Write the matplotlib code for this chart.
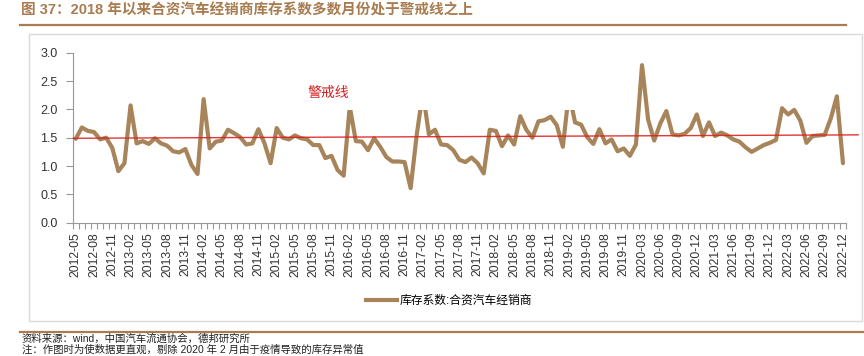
import matplotlib
matplotlib.use("Agg")
import matplotlib.pyplot as plt
import pandas as pd
from matplotlib.patches import Rectangle
from matplotlib.lines import Line2D

# ---- data ----
months = [p.strftime("%Y-%m") for p in pd.period_range("2012-05", "2022-12", freq="M")]
categories = [m for m in months if m != "2020-02"]  # 2020-02 removed in source chart

inventory = [
    1.48, 1.68, 1.62, 1.60, 1.47, 1.50, 1.32, 0.91, 1.05, 2.07,
    1.40, 1.44, 1.39, 1.49, 1.40, 1.36, 1.26, 1.24, 1.30, 1.02,
    0.86, 2.18, 1.31, 1.43, 1.45, 1.64, 1.58, 1.51, 1.38, 1.40,
    1.65, 1.40, 1.05, 1.67, 1.50, 1.47, 1.54, 1.49, 1.47, 1.37,
    1.37, 1.14, 1.18, 0.93, 0.83, 2.05, 1.44, 1.43, 1.28, 1.49,
    1.34, 1.16, 1.08, 1.08, 1.07, 0.61, 1.55, 2.30, 1.56, 1.64,
    1.38, 1.37, 1.28, 1.11, 1.07, 1.15, 1.05, 0.87, 1.64, 1.62,
    1.35, 1.54, 1.38, 1.88, 1.64, 1.50, 1.79, 1.81, 1.87, 1.72,
    1.34, 2.30, 1.77, 1.73, 1.51, 1.39, 1.65, 1.40, 1.47, 1.26,
    1.31, 1.18, 1.38, 2.78, 1.82, 1.45, 1.75, 1.97, 1.56, 1.54,
    1.57, 1.67, 1.91, 1.53, 1.77, 1.53, 1.59, 1.54, 1.47, 1.43,
    1.33, 1.25, 1.31, 1.37, 1.41, 1.46, 2.02, 1.91, 1.99, 1.80,
    1.41, 1.53, 1.54, 1.55, 1.84, 2.23, 1.05,
]
warning_line = [1.49, 1.55]
y_ticks = [0.0, 0.5, 1.0, 1.5, 2.0, 2.5, 3.0]

title = "图 37：2018 年以来合资汽车经销商库存系数多数月份处于警戒线之上"
series_name = "库存系数:合资汽车经销商"
source = "资料来源：wind，中国汽车流通协会，德邦研究所"
note = "注：作图时为使数据更直观，剔除 2020 年 2 月由于疫情导致的库存异常值"

LINE_C = "#A8845A"
BROWN = "#A87C50"
CJK = ["Liberation Sans", "Noto Sans CJK SC", "DejaVu Sans"]

W, H = 864, 356
fig = plt.figure(figsize=(W / 100, H / 100), dpi=100)
fig.patch.set_facecolor("white")

def fx(px):
    return px / W

def fy(py):
    return 1 - py / H

# chart frame
fig.add_artist(Rectangle((fx(29), fy(321)), fx(862) - fx(29), fy(34) - fy(321),
                         transform=fig.transFigure, fill=False, edgecolor="#d9d9d9", lw=1.0))

# title + rules
fig.text(fx(21), fy(11), title, fontsize=10.5, fontweight="bold", color=BROWN,
         family=CJK, va="center", ha="left")
fig.add_artist(Line2D([fx(20), fx(846)], [fy(25), fy(25)], transform=fig.transFigure,
                      color=BROWN, lw=1.6))
fig.add_artist(Line2D([fx(20), fx(864)], [fy(332), fy(332)], transform=fig.transFigure,
                      color=BROWN, lw=1.6))
fig.text(fx(22), fy(339), source, fontsize=7.5, color="#222222", family=CJK, va="center")
fig.text(fx(22), fy(350), note, fontsize=7.5, color="#222222", family=CJK, va="center")

# axes
ax = fig.add_axes([fx(72.7), fy(222.7), fx(846) - fx(72.7), fy(52.7) - fy(222.7)])
x = list(range(len(categories)))
ax.plot(x, inventory, color=LINE_C, lw=3.0, solid_joinstyle="round",
        solid_capstyle="round", zorder=3, label=series_name)

# white box over the upper area (text box in source chart)
ax.add_patch(Rectangle((40, 1.995), 45, 0.6, facecolor="white", edgecolor="none", zorder=4))
ax.text(38, 2.29, "警戒线", color="#d42020", fontsize=10, family=CJK, va="center",
        ha="left", zorder=5)

# warning line
ax.plot([-0.4, 128.5], warning_line, color="#e02020", lw=1.0, alpha=0.9,
        zorder=6, clip_on=False)

ax.set_xlim(-0.5, len(categories) - 0.5)
ax.set_ylim(0, 3)
ax.set_yticks(y_ticks)
ax.set_yticklabels([f"{v:.1f}" for v in y_ticks], fontsize=9, family="Liberation Sans",
                   color="#333333")
ax.set_xticks(x[::3])
ax.set_xticklabels(categories[::3], rotation=90, fontsize=8.8, family="Liberation Sans",
                   color="#333333")
ax.set_xticks([i - 0.5 for i in range(len(categories) + 1)], minor=True)
ax.tick_params(axis="x", which="major", length=0, pad=7)
ax.tick_params(axis="x", which="minor", length=4, color="#999999", width=0.8)
ax.tick_params(axis="y", length=5, color="#999999", width=0.8, pad=6)
for s in ["top", "right"]:
    ax.spines[s].set_visible(False)
for s in ["left", "bottom"]:
    ax.spines[s].set_color("#999999")
    ax.spines[s].set_linewidth(0.8)

leg = fig.legend(handles=[Line2D([], [], color=LINE_C, lw=3.0)], labels=[series_name],
                 loc="center", bbox_to_anchor=(fx(449), fy(301)), frameon=False,
                 handlelength=2.6, handletextpad=0.2,
                 prop={"family": CJK, "size": 8.5})

fig.savefig("out.png", dpi=100)
